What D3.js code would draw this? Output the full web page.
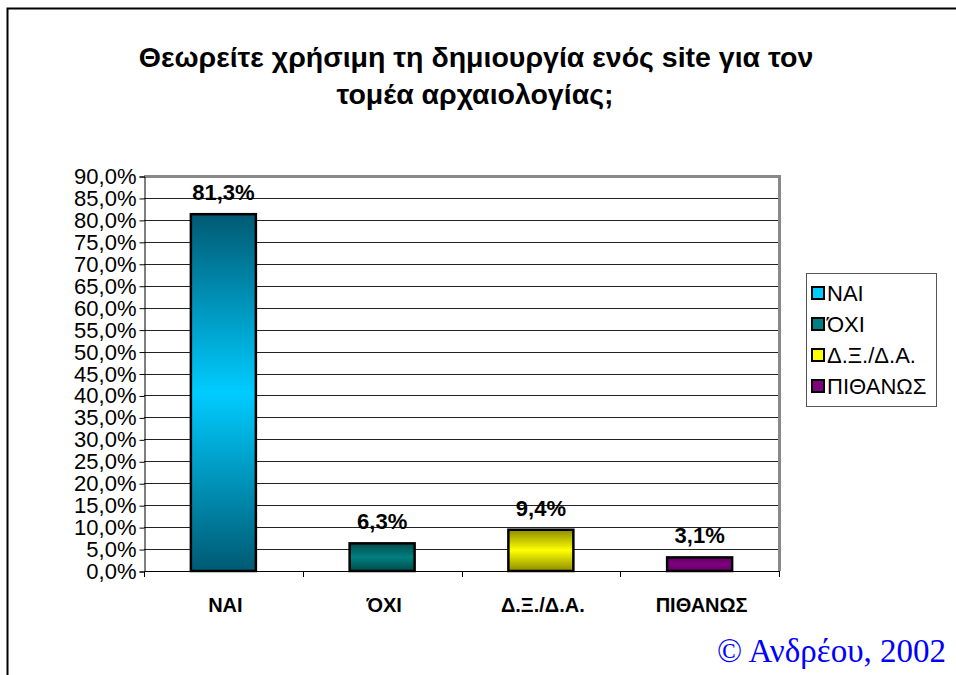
<!DOCTYPE html>
<html>
<head>
<meta charset="utf-8">
<script src="https://cdn.jsdelivr.net/npm/d3@7"></script>
<style>
  body { margin: 0; background: #fff; }
  svg { display: block; }
  text { font-family: Arial, "Liberation Sans", sans-serif; }
</style>
</head>
<body>
<svg id="chart" width="956" height="675"></svg>
<script>
var titleLines = ["Θεωρείτε χρήσιμη τη δημιουργία ενός site για τον", "τομέα αρχαιολογίας;"];
var categories = ["ΝΑΙ", "ΌΧΙ", "Δ.Ξ./Δ.Α.", "ΠΙΘΑΝΩΣ"];
var values = [81.3, 6.3, 9.4, 3.1];
var yTicks = [0, 5, 10, 15, 20, 25, 30, 35, 40, 45, 50, 55, 60, 65, 70, 75, 80, 85, 90];
var credit = "© Ανδρέου, 2002";

// gradient stops for each bar: edge colour, middle colour
var barColors = [
  { edge: "#005a73", mid: "#00ccff", legend: "#00ccff" },
  { edge: "#004a4a", mid: "#008080", legend: "#008080" },
  { edge: "#8c8c00", mid: "#ffff00", legend: "#ffff00" },
  { edge: "#600060", mid: "#800080", legend: "#800080" }
];

var svg = d3.select('#chart');
var greek = d3.formatLocale({ decimal: ",", thousands: ".", grouping: [3], currency: ["", "€"] });
var fmt = greek.format(".1f");

var plot = { left: 144, right: 779, top: 176, bottom: 571 };

// outer frame (runs off the right and bottom edge)
svg.append('rect')
  .attr('x', 7.5).attr('y', 8.5)
  .attr('width', 1000).attr('height', 1000)
  .style('fill', 'none').style('stroke', '#000').style('stroke-width', 2);

// title
svg.append('text')
  .attr('x', 476).attr('y', 67)
  .attr('text-anchor', 'middle')
  .style('font-size', '28.5px').style('font-weight', 'bold')
  .selectAll('tspan')
  .data(titleLines)
  .enter()
  .append('tspan')
  .attr('x', (d, i) => i == 0 ? 476 : 475)
  .attr('dy', (d, i) => i == 0 ? 0 : 37)
  .text(d => d);

var x = d3.scaleBand()
  .domain(categories)
  .range([plot.left, plot.right]);

var y = d3.scaleLinear()
  .domain([0, 90])
  .range([plot.bottom, plot.top]);

// gradients
var defs = svg.append('defs');
barColors.forEach(function(c, i) {
  var g = defs.append('linearGradient')
    .attr('id', 'grad' + i)
    .attr('x1', 0).attr('y1', 0).attr('x2', 0).attr('y2', 1);
  g.append('stop').attr('offset', '0%').attr('stop-color', c.edge);
  g.append('stop').attr('offset', '50%').attr('stop-color', c.mid);
  g.append('stop').attr('offset', '100%').attr('stop-color', c.edge);
});

// gridlines
svg.append('g')
  .selectAll('line.grid')
  .data(yTicks.filter(d => d > 0 && d < 90))
  .enter()
  .append('line')
  .classed('grid', true)
  .attr('x1', plot.left).attr('x2', plot.right)
  .attr('y1', d => Math.round(y(d)) + 0.5)
  .attr('y2', d => Math.round(y(d)) + 0.5)
  .style('stroke', '#222');

// plot area border top and right
svg.append('path')
  .attr('d', 'M' + plot.left + ',' + (plot.top + 0.5) + 'H' + (plot.right + 0.5) + 'V' + plot.bottom)
  .style('fill', 'none')
  .style('stroke', '#888')
  .style('stroke-width', 3);

// y axis
var yAxis = d3.axisLeft(y)
  .tickValues(yTicks)
  .tickSize(5)
  .tickPadding(3)
  .tickFormat(d => fmt(d) + '%');

var yg = svg.append('g')
  .attr('transform', 'translate(' + (plot.left + 0.5) + ',0.5)')
  .call(yAxis);
yg.selectAll('text').style('font-size', '22px').style('font-family', 'Arial, "Liberation Sans", sans-serif').attr('fill', '#000');
yg.selectAll('line, path').style('stroke', '#000');

// x axis: ticks between categories
var xg = svg.append('g');
xg.append('line')
  .attr('x1', plot.left).attr('x2', plot.right)
  .attr('y1', plot.bottom + 0.5).attr('y2', plot.bottom + 0.5)
  .style('stroke', '#000');
xg.selectAll('line.tick')
  .data(categories.concat(['end']))
  .enter()
  .append('line')
  .classed('tick', true)
  .attr('x1', (d, i) => Math.round(plot.left + i * x.step()) + 0.5)
  .attr('x2', (d, i) => Math.round(plot.left + i * x.step()) + 0.5)
  .attr('y1', plot.bottom)
  .attr('y2', plot.bottom + 6)
  .style('stroke', '#000');
xg.selectAll('text')
  .data(categories)
  .enter()
  .append('text')
  .attr('x', d => x(d) + x.bandwidth() / 2 + 2)
  .attr('y', 612)
  .attr('text-anchor', 'middle')
  .style('font-size', '20px').style('font-weight', 'bold')
  .text(d => d);

// bars
var barW = 65;
var bars = svg.append('g')
  .selectAll('rect.bar')
  .data(values)
  .enter()
  .append('rect')
  .classed('bar', true)
  .attr('x', (d, i) => x(categories[i]) + x.bandwidth() / 2 - barW / 2)
  .attr('y', d => y(d))
  .attr('width', barW)
  .attr('height', d => plot.bottom - y(d))
  .style('fill', (d, i) => 'url(#grad' + i + ')')
  .style('stroke', '#000')
  .style('stroke-width', 2.5);

// value labels
svg.append('g')
  .selectAll('text.value')
  .data(values)
  .enter()
  .append('text')
  .classed('value', true)
  .attr('x', (d, i) => x(categories[i]) + x.bandwidth() / 2)
  .attr('y', d => y(d) - 14)
  .attr('text-anchor', 'middle')
  .style('font-size', '22px').style('font-weight', 'bold')
  .text(d => fmt(d) + '%');

// legend
var legend = svg.append('g').attr('transform', 'translate(806,273)');
legend.append('rect')
  .attr('x', 0.5).attr('y', 0.5)
  .attr('width', 130).attr('height', 133)
  .style('fill', '#fff')
  .style('stroke', '#555');
var items = legend.selectAll('g.item')
  .data(categories)
  .enter()
  .append('g')
  .classed('item', true)
  .attr('transform', (d, i) => 'translate(6,' + (20 + i * 31) + ')');
items.append('rect')
  .attr('x', 0).attr('y', -6)
  .attr('width', 12).attr('height', 12)
  .style('fill', (d, i) => barColors[i].legend)
  .style('stroke', '#000')
  .style('stroke-width', 2);
items.append('text')
  .attr('x', 15).attr('y', 8)
  .style('font-size', '22px')
  .text(d => d);

// credit
svg.append('text')
  .attr('x', 946).attr('y', 662)
  .attr('text-anchor', 'end')
  .style('font-family', '"Liberation Serif", "Times New Roman", serif')
  .style('font-size', '33px')
  .style('fill', '#0000ff')
  .text(credit);
</script>
</body>
</html>
